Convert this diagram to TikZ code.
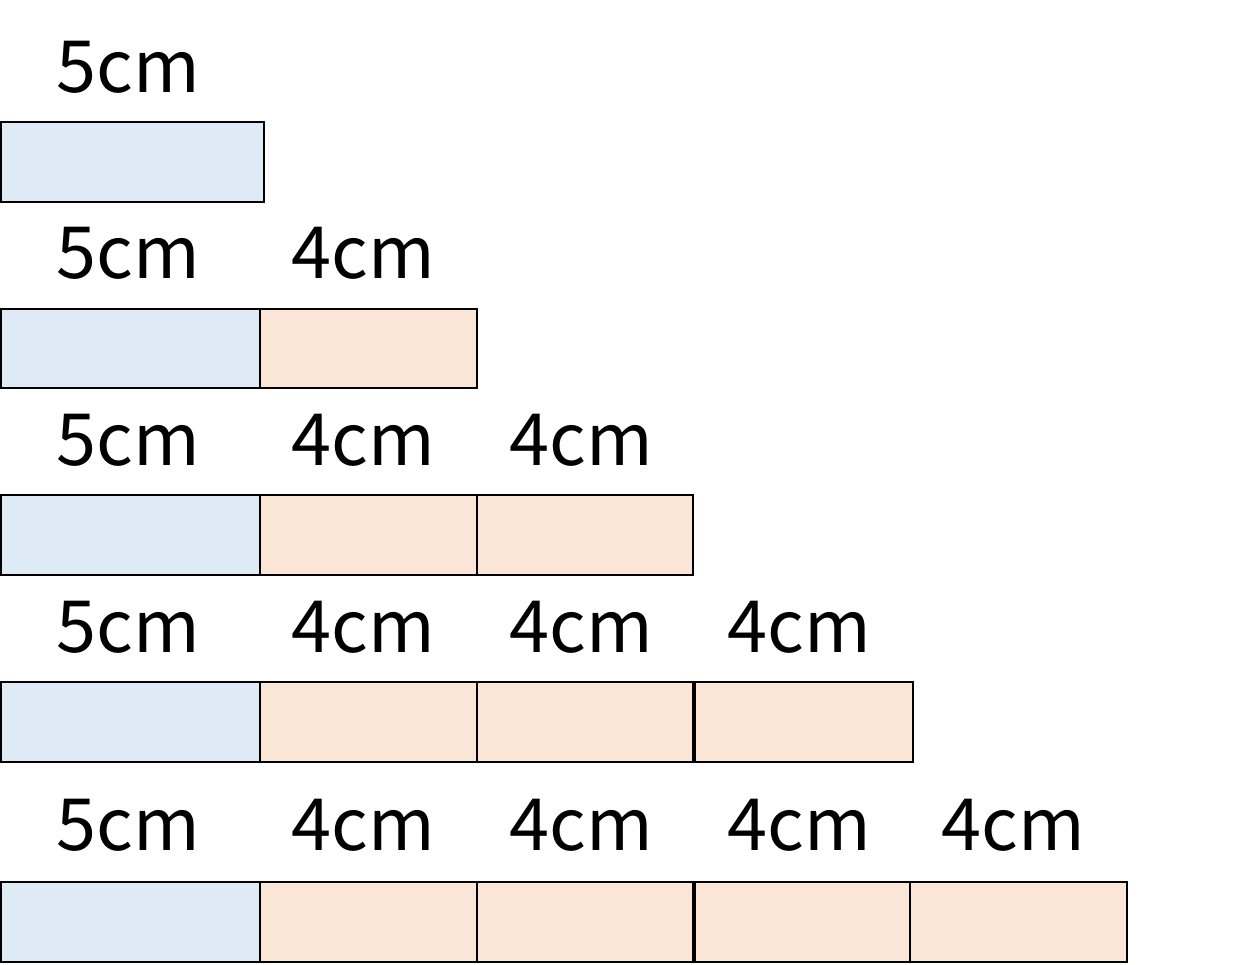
\documentclass[tikz,border=0pt]{standalone}
\usepackage{fontspec}
\newfontfamily\jpfont{Noto Sans CJK JP}
\definecolor{lblue}{HTML}{DEEBF7}
\definecolor{lpink}{HTML}{FBE5D6}
\tikzset{
  bluebox/.style={fill=lblue,draw=black,line width=1.6pt},
  pinkbox/.style={fill=lpink,draw=black,line width=1.6pt},
  lab/.style={anchor=base,inner sep=0pt,font=\jpfont\fontsize{72}{86}\selectfont}
}
\begin{document}
\begin{tikzpicture}[x=1pt,y=-1pt]
\useasboundingbox (0,0) rectangle (1245,964);
% row 1
\draw[bluebox] (1,122) rectangle (264,202);
\node[lab] (r1a) at (128,92) {5cm};
% row 2
\draw[bluebox] (1,309) rectangle (260,388);
\draw[pinkbox] (260,309) rectangle (477,388);
\node[lab] (r2a) at (128,278) {5cm};
\node[lab] (r2b) at (363,278) {4cm};
% row 3
\draw[bluebox] (1,495) rectangle (260,575);
\draw[pinkbox] (260,495) rectangle (477,575);
\draw[pinkbox] (477,495) rectangle (693,575);
\node[lab] (r3a) at (128,465) {5cm};
\node[lab] (r3b) at (363,465) {4cm};
\node[lab] (r3c) at (581,465) {4cm};
% row 4
\draw[bluebox] (1,682) rectangle (260,762);
\draw[pinkbox] (260,682) rectangle (477,762);
\draw[pinkbox] (477,682) rectangle (693,762);
\draw[pinkbox] (695,682) rectangle (913,762);
\node[lab] (r4a) at (128,652) {5cm};
\node[lab] (r4b) at (363,652) {4cm};
\node[lab] (r4c) at (581,652) {4cm};
\node[lab] (r4d) at (799,652) {4cm};
% row 5
\draw[bluebox] (1,882) rectangle (260,962);
\draw[pinkbox] (260,882) rectangle (477,962);
\draw[pinkbox] (477,882) rectangle (693,962);
\draw[pinkbox] (695,882) rectangle (910,962);
\draw[pinkbox] (910,882) rectangle (1127,962);
\node[lab] (r5a) at (128,850) {5cm};
\node[lab] (r5b) at (363,850) {4cm};
\node[lab] (r5c) at (581,850) {4cm};
\node[lab] (r5d) at (799,850) {4cm};
\node[lab] (r5e) at (1013,850) {4cm};
\end{tikzpicture}
\end{document}
